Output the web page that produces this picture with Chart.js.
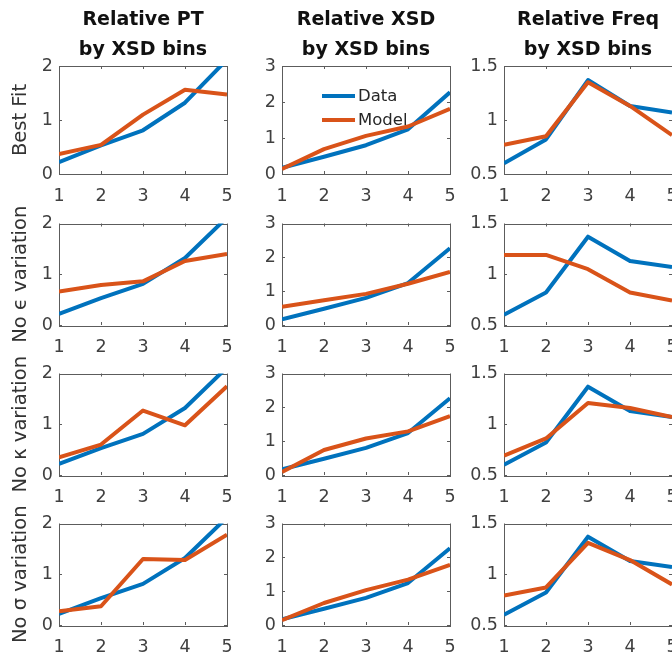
<!DOCTYPE html>
<html><head><meta charset="utf-8">
<script src="https://cdn.jsdelivr.net/npm/chart.js@4/dist/chart.umd.min.js"></script>
<style>
html,body{margin:0;padding:0;background:#fff;overflow:hidden;}
#wrap{position:relative;width:672px;height:658px;overflow:hidden;background:#fff;}
canvas{position:absolute;}
</style></head><body><div id="wrap"></div>
<script>
// ---------- data ----------
const xBins = [1, 2, 3, 4, 5];
const columnTitles = [['Relative PT', 'by XSD bins'], ['Relative XSD', 'by XSD bins'], ['Relative Freq', 'by XSD bins']];
const rowLabels = ['Best Fit', 'No \u03F5 variation', 'No \u03BA variation', 'No \u03C3 variation'];
const seriesNames = ['Data', 'Model'];

const dataPT   = [0.22, 0.53, 0.81, 1.32, 2.12];
const dataXSD  = [0.17, 0.48, 0.80, 1.24, 2.27];
const dataFreq = [0.60, 0.82, 1.37, 1.13, 1.07];

const modelPTBest    = [0.37, 0.54, 1.10, 1.56, 1.47];
const modelPTNoEps   = [0.66, 0.79, 0.86, 1.26, 1.40];
const modelPTNoKappa = [0.35, 0.60, 1.27, 0.98, 1.75];
const modelPTNoSigma = [0.27, 0.37, 1.30, 1.28, 1.78];

const modelXSDBest    = [0.14, 0.69, 1.06, 1.32, 1.81];
const modelXSDNoEps   = [0.54, 0.73, 0.92, 1.22, 1.57];
const modelXSDNoKappa = [0.09, 0.74, 1.08, 1.29, 1.74];
const modelXSDNoSigma = [0.14, 0.65, 1.03, 1.34, 1.78];

const modelFreqBest    = [0.77, 0.85, 1.35, 1.13, 0.86];
const modelFreqNoEps   = [1.19, 1.19, 1.05, 0.82, 0.74];
const modelFreqNoKappa = [0.69, 0.86, 1.21, 1.16, 1.07];
const modelFreqNoSigma = [0.79, 0.87, 1.31, 1.14, 0.90];

const yMinByCol  = [0, 0, 0.5];
const yMaxByCol  = [2, 3, 1.5];
const yStepByCol = [1, 1, 0.5];

const dataByCol = [dataPT, dataXSD, dataFreq];
const modelGrid = [
  [modelPTBest, modelXSDBest, modelFreqBest],
  [modelPTNoEps, modelXSDNoEps, modelFreqNoEps],
  [modelPTNoKappa, modelXSDNoKappa, modelFreqNoKappa],
  [modelPTNoSigma, modelXSDNoSigma, modelFreqNoSigma]
];

// ---------- layout / style ----------
const FONT = "'DejaVu Sans', sans-serif";
const BLUE = '#0072BD', ORANGE = '#D95319';
const plotLeft = [59, 282, 504];
const plotTop = [66, 217, 367, 517];
const plotW = 168, plotH = 108;
const padLByCol = [59, 50, 50];
const xAxisH = 40;

const toXY = arr => xBins.map((x, i) => ({x: x, y: arr[i]}));
const fmt = v => String(Math.round(v * 100) / 100);

const boxPlugin = {
  id: 'matlabBox',
  beforeDatasetsDraw(chart) {
    const {ctx, chartArea: a, scales: {x, y}} = chart;
    ctx.save();
    ctx.strokeStyle = '#5c5c5c';
    ctx.lineWidth = 1;
    ctx.beginPath();
    const tl = 3;
    x.ticks.forEach((t, i) => {
      const px = Math.round(x.getPixelForTick(i)) + 0.5;
      ctx.moveTo(px, a.bottom); ctx.lineTo(px, a.bottom - tl);
      ctx.moveTo(px, a.top); ctx.lineTo(px, a.top + tl);
    });
    y.ticks.forEach((t, i) => {
      const py = Math.round(y.getPixelForTick(i)) + 0.5;
      ctx.moveTo(a.left, py); ctx.lineTo(a.left + tl, py);
      ctx.moveTo(a.right, py); ctx.lineTo(a.right - tl, py);
    });
    ctx.stroke();
    ctx.strokeRect(Math.round(a.left) + 0.5, Math.round(a.top) + 0.5, Math.round(a.right - a.left), Math.round(a.bottom - a.top));
    ctx.restore();
  }
};

const legendPlugin = {
  id: 'innerLegend',
  afterDatasetsDraw(chart, args, opts) {
    if (!opts || !opts.show) return;
    const {ctx, chartArea: a} = chart;
    ctx.save();
    ctx.font = '16.5px ' + FONT;
    ctx.textBaseline = 'middle';
    ctx.textAlign = 'left';
    chart.data.datasets.forEach((ds, i) => {
      const yy = a.top + 30 + i * 24;
      ctx.strokeStyle = ds.borderColor;
      ctx.lineWidth = 4;
      ctx.beginPath();
      ctx.moveTo(a.left + 40, yy); ctx.lineTo(a.left + 73, yy);
      ctx.stroke();
      ctx.fillStyle = '#262626';
      ctx.fillText(ds.label, a.left + 76, yy + 1);
    });
    ctx.restore();
  }
};

const wrap = document.getElementById('wrap');

for (let r = 0; r < 4; r++) {
  for (let c = 0; c < 3; c++) {
    const padL = padLByCol[c];
    const padR = padL;
    const padT = r === 0 ? plotTop[0] : 10;
    const cw = padL + plotW + padR;
    const ch = padT + plotH + xAxisH;
    const cv = document.createElement('canvas');
    cv.width = cw; cv.height = ch;
    cv.style.left = (plotLeft[c] - padL) + 'px';
    cv.style.top = (plotTop[r] - padT) + 'px';
    cv.style.width = cw + 'px'; cv.style.height = ch + 'px';
    wrap.appendChild(cv);

    new Chart(cv.getContext('2d'), {
      type: 'line',
      data: {
        datasets: [
          {label: seriesNames[0], data: toXY(dataByCol[c]), borderColor: BLUE, backgroundColor: BLUE,
           borderWidth: 4, pointRadius: 0, tension: 0, clip: 0, order: 1, borderJoinStyle: 'round'},
          {label: seriesNames[1], data: toXY(modelGrid[r][c]), borderColor: ORANGE, backgroundColor: ORANGE,
           borderWidth: 4, pointRadius: 0, tension: 0, clip: 0, order: 0, borderJoinStyle: 'round'}
        ]
      },
      options: {
        responsive: false,
        animation: false,
        devicePixelRatio: 1,
        events: [],
        layout: {autoPadding: false, padding: {top: r === 0 ? 0 : padT, right: 0, bottom: 0, left: 0}},
        plugins: {
          legend: {display: false},
          tooltip: {enabled: false},
          title: {
            display: r === 0,
            text: columnTitles[c],
            color: '#111111',
            font: {family: FONT, size: 19, weight: 'bold', lineHeight: '30px'},
            padding: {top: 5, bottom: 1}
          },
          innerLegend: {show: r === 0 && c === 1}
        },
        scales: {
          x: {
            type: 'linear', min: 1, max: 5,
            grid: {display: false, drawTicks: false},
            border: {display: false},
            ticks: {stepSize: 1, padding: 12, color: '#404040', font: {family: FONT, size: 17.5}, maxRotation: 0, callback: fmt},
            afterFit: s => { s.height = xAxisH; }
          },
          y: {
            type: 'linear', min: yMinByCol[c], max: yMaxByCol[c],
            grid: {display: false, drawTicks: false},
            border: {display: false},
            ticks: {stepSize: yStepByCol[c], padding: 6, color: '#404040', font: {family: FONT, size: 17.5}, callback: fmt},
            title: {display: c === 0, text: rowLabels[r], color: '#333333',
                    font: {family: FONT, size: 19.5}, padding: {top: 9, bottom: 0}},
            afterFit: s => { s.width = padL; }
          },
          yRight: {
            type: 'linear', position: 'right', min: yMinByCol[c], max: yMaxByCol[c],
            grid: {display: false, drawTicks: false},
            border: {display: false},
            ticks: {display: false},
            afterFit: s => { s.width = padR; }
          }
        }
      },
      plugins: [boxPlugin, legendPlugin]
    });
  }
}
</script></body></html>
